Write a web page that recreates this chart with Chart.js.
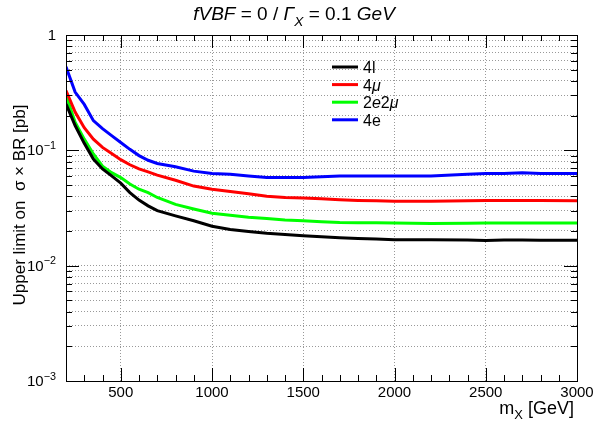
<!DOCTYPE html>
<html>
<head>
<meta charset="utf-8">
<script src="https://cdn.jsdelivr.net/npm/chart.js@4"></script>
<style>
  html, body { margin: 0; padding: 0; background: #fff; }
  #wrap { width: 593px; height: 432px; }
</style>
</head>
<body>
<div id="wrap"><canvas id="myChart" width="593" height="432"></canvas></div>
<script>
// mass points in GeV
var massPoints = [200, 250, 300, 350, 400, 450, 500, 550, 600, 650, 700, 800, 900, 1000, 1100, 1200, 1300, 1400, 1500, 1600, 1700, 1800, 1900, 2000, 2200, 2400, 2500, 2600, 2700, 2800, 3000];

// upper limits [pb]
var limit4l    = [0.253, 0.164, 0.115, 0.084, 0.069, 0.06, 0.052, 0.043, 0.037, 0.033, 0.03, 0.027, 0.0245, 0.022, 0.0206, 0.0198, 0.0191, 0.0186, 0.0182, 0.0178, 0.0175, 0.0172, 0.017, 0.0168, 0.0168, 0.0167, 0.0165, 0.0167, 0.0167, 0.0166, 0.0166];
var limit4mu   = [0.33, 0.215, 0.157, 0.125, 0.106, 0.094, 0.083, 0.075, 0.069, 0.065, 0.061, 0.055, 0.049, 0.046, 0.044, 0.042, 0.04, 0.039, 0.0387, 0.038, 0.0373, 0.0368, 0.0365, 0.0362, 0.0362, 0.0365, 0.0367, 0.0367, 0.0367, 0.0367, 0.0365];
var limit2e2mu = [0.3, 0.175, 0.125, 0.093, 0.073, 0.064, 0.058, 0.051, 0.046, 0.043, 0.039, 0.034, 0.031, 0.0285, 0.0274, 0.0263, 0.0256, 0.0249, 0.0245, 0.024, 0.0237, 0.0236, 0.0235, 0.0234, 0.0232, 0.0233, 0.0234, 0.0234, 0.0234, 0.0234, 0.0234];
var limit4e    = [0.53, 0.32, 0.25, 0.181, 0.154, 0.134, 0.117, 0.102, 0.09, 0.082, 0.077, 0.072, 0.066, 0.063, 0.062, 0.06, 0.058, 0.058, 0.058, 0.059, 0.06, 0.06, 0.06, 0.06, 0.06, 0.062, 0.063, 0.063, 0.064, 0.063, 0.063];

var xTickLabels = [500, 1000, 1500, 2000, 2500, 3000];
var yDecades = [0.001, 0.01, 0.1, 1];
var yDecadeExp = ["-3", "-2", "-1", ""];

var FONT = "'Liberation Sans', Arial, sans-serif";

function pts(arr) {
  return massPoints.map(function (m, i) { return { x: m, y: arr[i] }; });
}

// draws text made of pieces (italic / subscript / superscript)
function richText(ctx, parts, x, y, size, align) {
  var w = 0;
  parts.forEach(function (p) {
    var s = (p.sub || p.sup) ? size * 0.72 : size;
    ctx.font = (p.it ? "italic " : "") + s + "px " + FONT;
    p.w = ctx.measureText(p.t).width;
    w += p.w;
  });
  var cx = x;
  if (align === "center") cx = x - w / 2;
  if (align === "right") cx = x - w;
  ctx.textAlign = "left";
  parts.forEach(function (p) {
    var s = (p.sub || p.sup) ? size * 0.72 : size;
    ctx.font = (p.it ? "italic " : "") + s + "px " + FONT;
    var dy = p.sub ? size * 0.3 : (p.sup ? -size * 0.42 : 0);
    ctx.fillText(p.t, cx, y + dy);
    cx += p.w;
  });
}

var rootStyle = {
  id: "rootStyle",
  afterDraw: function (chart) {
    var ctx = chart.ctx;
    var a = chart.chartArea;
    var xs = chart.scales.x, ys = chart.scales.y;
    ctx.save();
    ctx.strokeStyle = "#000";
    ctx.fillStyle = "#000";
    ctx.lineWidth = 1;
    ctx.setLineDash([]);
    ctx.strokeRect(a.left + 0.5, a.top + 0.5, a.right - a.left, a.bottom - a.top);

    // x ticks (bottom + top)
    ctx.beginPath();
    for (var v = 200; v <= 3000; v += 100) {
      var px = Math.round(xs.getPixelForValue(v)) + 0.5;
      var len = (v % 500 === 0) ? 13 : 6;
      ctx.moveTo(px, a.bottom); ctx.lineTo(px, a.bottom - len);
      ctx.moveTo(px, a.top); ctx.lineTo(px, a.top + len);
    }
    // y ticks (left + right)
    for (var d = 0; d < yDecades.length; d++) {
      for (var k = 1; k <= 9; k++) {
        var val = yDecades[d] * k;
        if (val > 1.0001) break;
        var py = Math.round(ys.getPixelForValue(val)) + 0.5;
        var l2 = (k === 1) ? 13 : 6;
        ctx.moveTo(a.left, py); ctx.lineTo(a.left + l2, py);
        ctx.moveTo(a.right, py); ctx.lineTo(a.right - l2, py);
      }
    }
    ctx.stroke();

    // x tick labels
    ctx.textBaseline = "alphabetic";
    xTickLabels.forEach(function (v) {
      richText(ctx, [{ t: String(v) }], xs.getPixelForValue(v), a.bottom + 16, 15, "center");
    });
    // y tick labels
    yDecades.forEach(function (v, i) {
      var py = ys.getPixelForValue(v) + 5;
      if (yDecadeExp[i] === "") richText(ctx, [{ t: "1" }], a.left - 10, py, 15, "right");
      else richText(ctx, [{ t: "10" }, { t: "\u2212" + yDecadeExp[i].slice(1), sup: true }], a.left - 10, py, 15, "right");
    });

    // title
    richText(ctx, [
      { t: "fVBF", it: true }, { t: " = 0 / " }, { t: "\u0393", it: true },
      { t: "X", it: true, sub: true }, { t: " = 0.1 " }, { t: "GeV", it: true }
    ], 294, 20, 19, "center");

    // x axis title
    richText(ctx, [{ t: "m" }, { t: "X", sub: true }, { t: " [GeV]" }], 574, 414, 18, "right");

    // y axis title
    ctx.save();
    ctx.translate(25, 205);
    ctx.rotate(-Math.PI / 2);
    richText(ctx, [{ t: "Upper limit on  \u03c3 \u00d7 BR [pb]" }], 0, 0, 17, "center");
    ctx.restore();

    // legend
    var rows = [
      { c: "#000000", p: [{ t: "4l" }] },
      { c: "#ff0000", p: [{ t: "4" }, { t: "\u03bc", it: true }] },
      { c: "#00ff00", p: [{ t: "2" }, { t: "e", it: true }, { t: "2" }, { t: "\u03bc", it: true }] },
      { c: "#0000ff", p: [{ t: "4e" }] }
    ];
    rows.forEach(function (r, i) {
      var ry = 67 + i * 17.6;
      ctx.strokeStyle = r.c;
      ctx.lineWidth = 3;
      ctx.beginPath();
      ctx.moveTo(332, ry); ctx.lineTo(358, ry);
      ctx.stroke();
      ctx.fillStyle = "#000";
      richText(ctx, r.p, 363, ry + 6, 16, "left");
    });
    ctx.restore();
  }
};

new Chart("myChart", {
  type: "line",
  data: {
    datasets: [
      { label: "4l", data: pts(limit4l), borderColor: "#000000" },
      { label: "4\u03bc", data: pts(limit4mu), borderColor: "#ff0000" },
      { label: "2e2\u03bc", data: pts(limit2e2mu), borderColor: "#00ff00" },
      { label: "4e", data: pts(limit4e), borderColor: "#0000ff" }
    ]
  },
  options: {
    responsive: false,
    animation: false,
    layout: { padding: { left: 66, right: 16, top: 35, bottom: 51 } },
    elements: {
      line: { borderWidth: 3, tension: 0, fill: false },
      point: { radius: 0 }
    },
    plugins: { legend: { display: false }, title: { display: false }, tooltip: { enabled: false } },
    scales: {
      x: {
        type: "linear", min: 200, max: 3000,
        afterBuildTicks: function (s) { s.ticks = xTickLabels.map(function (v) { return { value: v }; }); },
        ticks: { display: false },
        grid: { color: "#999", lineWidth: 1, drawTicks: false, tickLength: 0 },
        border: { display: false, dash: [1, 2] }
      },
      y: {
        type: "logarithmic", min: 0.001, max: 1,
        afterBuildTicks: function (s) {
          var t = [];
          yDecades.forEach(function (d) {
            for (var k = 1; k <= 9; k++) { if (d * k <= 1.0001) t.push({ value: d * k }); }
          });
          s.ticks = t;
        },
        ticks: { display: false },
        grid: { color: "#999", lineWidth: 1, drawTicks: false, tickLength: 0 },
        border: { display: false, dash: [1, 2] }
      }
    }
  },
  plugins: [rootStyle]
});
</script>
</body>
</html>
